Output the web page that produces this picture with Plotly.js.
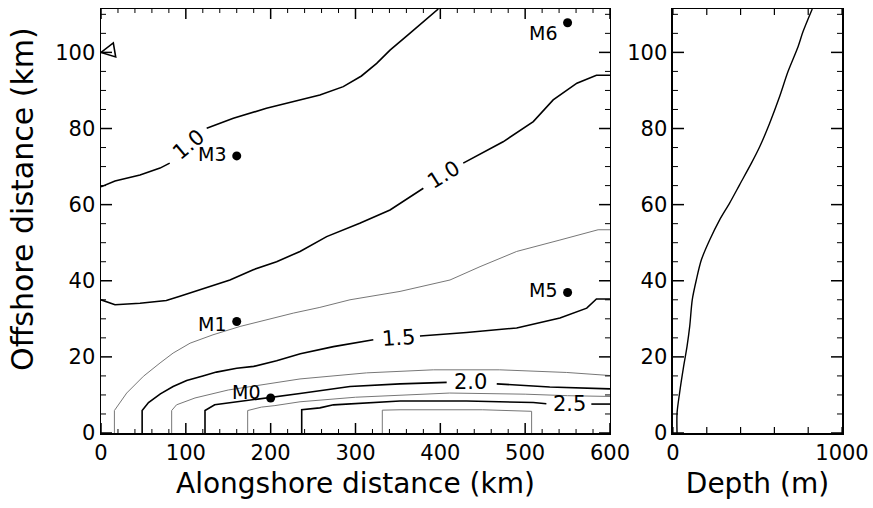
<!DOCTYPE html>
<html>
<head>
<meta charset="utf-8">
<script src="https://cdn.plot.ly/plotly-3.0.1.min.js"></script>
<style>html,body{margin:0;padding:0;background:#fff;}#chart{width:873px;height:508px;}</style>
</head>
<body>
<div id="chart"></div>
<script>
// ---- Contour lines (alongshore km, offshore km); null = gap for inline label ----
const c1x = [0, 16.5, 46, 69.6, 81, null, 124.6, 156, 195, 234.6, 258, 285.6, 307, 325, 340.7, 364, 397.6];
const c1y = [64.7, 66.2, 67.8, 69.6, 70.9, null, 80.1, 82.7, 85.3, 87.5, 88.8, 91, 93.8, 97.1, 100.6, 105, 111.4];

const c2x = [0, 16.5, 46, 77, 93, 116.7, 152, 179.5, 207, 234.6, 266, 305, 340.7, 380, null, 427, 474, 509.6, 533, 561, 584, 600];
const c2y = [35, 33.7, 34.1, 34.8, 35.9, 37.6, 40.2, 42.9, 45, 47.7, 51.6, 55.1, 58.6, 64.3, null, 70.9, 76.5, 81.8, 87.5, 91.9, 94, 94];

const c3x = [15.8, 15.8, 30.3, 50, 69.6, 85, 105, 132, 164, 195, 226.7, 258, 293.5, 352.5, 411.4, 446.8, 490, 541, 586, 600];
const c3y = [0, 5.9, 10.5, 14.9, 18.4, 21, 23.6, 25.8, 28, 29.7, 31.5, 33, 35, 37.2, 40.2, 43.7, 47.7, 50.7, 53.4, 53.4];

const c4x = [48.5, 48.5, 56, 70, 85, 101, 120, 136, 160, 180, 207, 235, 274, 321, null, 376, 431, 490, 541, 572.6, 584, 600];
const c4y = [0, 5.9, 8, 10.3, 12.2, 13.8, 15, 16, 17, 17.5, 19, 20.8, 22.7, 24.5, null, 25.5, 26.4, 27.6, 30.2, 32.8, 35.2, 35.2];

const c5x = [83.3, 83.3, 89, 110.8, 150, 199, 234.6, 313, 391.7, 470, 549, 600];
const c5y = [0, 5.9, 7.4, 9.2, 11.3, 13.0, 14.2, 15.8, 16.6, 16.6, 15.9, 15.1];

const c6x = [122.6, 122.6, 134, 166, 199, 234.6, 293.5, 352.5, 407.5, null, 466.5, 529, 600];
const c6y = [0, 5.9, 7.4, 8.3, 9.4, 10.4, 12.2, 12.9, 13.3, null, 12.9, 12.1, 11.6];

const c7x = [172.9, 172.9, 189, 205, 234.6, 300, 411, 500, 550, 600];
const c7y = [0, 5.9, 6.8, 7.2, 8.2, 9.4, 10.5, 10.2, 9.8, 9.6];

const c8x = [236.6, 236.6, 258, 274, 352.5, 431, 509.6, 525, null, 578, 600];
const c8y = [0, 6.1, 6.6, 7.4, 8.4, 8.4, 8.0, 7.7, null, 7.6, 7.6];

const c9x = [331.6, 331.6, 352.5, 450, 507.6, 507.6];
const c9y = [0, 6.0, 6.1, 6.1, 5.7, 0];

const loopX = [0, 14.5, 17.3, 0];
const loopY = [100, 102.5, 98.8, 100];

// ---- Contour label texts and positions ----
const clabelText = ['1.0', '1.0', '1.5', '2.0', '2.5'];
const clabelX = [102.6, 403.5, 350.5, 435.8, 551.7];
const clabelY = [75.7, 67.8, 24.9, 13.3, 7.7];
const clabelAngle = [-40, -32, -4, 0, 0];

// ---- Moorings ----
const mName = ['M3', 'M1', 'M0', 'M5', 'M6'];
const mX = [160, 160, 200, 550, 550];
const mY = [72.8, 29.3, 9.2, 36.9, 107.8];
const mLabelShift = [2, -3, 6, 3, -10];

// ---- Depth profile (right panel) ----
const depthM = [24, 24, 39, 63, 83, 99, 114, 138, 168, 217, 276, 335, 394, 464, 513, 572, 631, 680, 740, 769, 824];
const depthY = [0, 5.2, 10.5, 17.5, 22.7, 28, 35, 40.2, 45.5, 50.7, 56, 60.4, 65.2, 70.9, 75.2, 81.4, 88.4, 94.9, 101.5, 105.4, 111.4];

// ---- Tick labels ----
const xTicks = [0, 100, 200, 300, 400, 500, 600];
const yTicks = [0, 20, 40, 60, 80, 100];
const dTickVals = [0, 200, 400, 600, 800, 1000];
const dTickText = ['0', '', '', '', '', '1000'];
const xMinorStep = 20, yMinorStep = 5;

const X_MAX = 600, Y_MAX = 111.4, D_MAX = 1000;
const FONT = 'DejaVu Sans';
const major = {color: '#000', width: 1.6};
const minor = {color: '#777', width: 1};

const contours = [
  [c1x, c1y, major], [c2x, c2y, major], [c3x, c3y, minor], [c4x, c4y, major],
  [c5x, c5y, minor], [c6x, c6y, major], [c7x, c7y, minor], [c8x, c8y, major],
  [c9x, c9y, minor], [loopX, loopY, major]
];

const traces = contours.map(c => ({
  type: 'scatter', mode: 'lines', x: c[0], y: c[1], line: c[2],
  connectgaps: false, xaxis: 'x', yaxis: 'y', hoverinfo: 'skip', showlegend: false
}));

traces.push({
  type: 'scatter', mode: 'markers', x: mX, y: mY,
  marker: {color: '#000', size: 9}, xaxis: 'x', yaxis: 'y', showlegend: false
});

traces.push({
  type: 'scatter', mode: 'lines', x: depthM, y: depthY,
  line: {color: '#000', width: 1.4, shape: 'spline', smoothing: 0.8},
  xaxis: 'x2', yaxis: 'y2', showlegend: false
});

const annotations = [];
clabelText.forEach((t, i) => annotations.push({
  x: clabelX[i], y: clabelY[i], xref: 'x', yref: 'y', text: t, showarrow: false,
  textangle: clabelAngle[i], font: {family: FONT, size: 21, color: '#000'}
}));
mName.forEach((t, i) => annotations.push({
  x: mX[i], y: mY[i], xref: 'x', yref: 'y', text: t, showarrow: false,
  xanchor: 'right', yanchor: 'middle', xshift: -9, yshift: mLabelShift[i],
  font: {family: FONT, size: 19, color: '#000'}
}));
// y-axis title as rotated text (the reference title sits a little above the axis centre)
annotations.push({
  x: -0.1053, y: 0.552, xref: 'paper', yref: 'paper', text: 'Offshore distance (km)',
  showarrow: false, textangle: -90, xanchor: 'center', yanchor: 'middle',
  font: {family: FONT, size: 30, color: '#000'}
});

// ---- Inside tick marks on all four sides (fixed pixel lengths, placed at axis values) ----
const shapes = [];
function vTick(xref, yref, v, yAnchor, len, w) {
  shapes.push({type: 'line', xref: xref, yref: yref, x0: v, x1: v, ysizemode: 'pixel', yanchor: yAnchor,
               y0: 0, y1: len, line: {color: '#000', width: w}, layer: 'above'});
}
function hTick(xref, yref, v, xAnchor, len, w) {
  shapes.push({type: 'line', xref: xref, yref: yref, y0: v, y1: v, xsizemode: 'pixel', xanchor: xAnchor,
               x0: 0, x1: len, line: {color: '#000', width: w}, layer: 'above'});
}
// left panel, x ticks
xTicks.forEach(v => { vTick('x', 'y', v, 0, 10, 1.5); vTick('x', 'y', v, Y_MAX, -10, 1.5); });
for (let v = 0; v <= X_MAX; v += xMinorStep) {
  if (xTicks.indexOf(v) < 0) { vTick('x', 'y', v, 0, 4, 1); vTick('x', 'y', v, Y_MAX, -4, 1); }
}
// y ticks for both panels
yTicks.forEach(v => {
  hTick('x', 'y', v, 0, 11, 1.5); hTick('x', 'y', v, X_MAX, -11, 1.5);
  hTick('x2', 'y2', v, 0, 11, 1.5); hTick('x2', 'y2', v, D_MAX, -11, 1.5);
});
for (let v = 0; v <= Y_MAX; v += yMinorStep) {
  if (yTicks.indexOf(v) < 0) {
    hTick('x', 'y', v, 0, 5, 1); hTick('x', 'y', v, X_MAX, -5, 1);
    hTick('x2', 'y2', v, 0, 5, 1); hTick('x2', 'y2', v, D_MAX, -5, 1);
  }
}
// right panel, depth ticks
dTickVals.forEach(v => { vTick('x2', 'y2', v, 0, 6, 1.2); vTick('x2', 'y2', v, Y_MAX, -6, 1.2); });

const axisBase = {
  showgrid: false, zeroline: false, showline: true, linecolor: '#000', linewidth: 1.5,
  mirror: true, ticks: '',
  tickfont: {family: FONT, size: 21, color: '#000'}
};

const layout = {
  width: 873, height: 508,
  margin: {l: 101, r: 31, t: 9, b: 75},
  paper_bgcolor: '#fff', plot_bgcolor: '#fff',
  showlegend: false,
  font: {family: FONT, color: '#000'},
  xaxis: Object.assign({}, axisBase, {
    domain: [0, 0.6869], range: [0, X_MAX], anchor: 'y',
    tickvals: xTicks,
    title: {text: 'Alongshore distance (km)', font: {family: FONT, size: 28}, standoff: 9}
  }),
  yaxis: Object.assign({}, axisBase, {
    domain: [0, 1], range: [0, Y_MAX], anchor: 'x',
    tickvals: yTicks, ticksuffix: '\u2009'
  }),
  xaxis2: Object.assign({}, axisBase, {
    domain: [0.7719, 1], range: [0, D_MAX], anchor: 'y2',
    tickvals: dTickVals, ticktext: dTickText,
    title: {text: 'Depth (m)', font: {family: FONT, size: 28}, standoff: 9}
  }),
  yaxis2: Object.assign({}, axisBase, {
    domain: [0, 1], range: [0, Y_MAX], anchor: 'x2',
    tickvals: yTicks
  }),
  shapes: shapes,
  annotations: annotations
};

Plotly.newPlot('chart', traces, layout, {staticPlot: true, displayModeBar: false});
</script>
</body>
</html>
